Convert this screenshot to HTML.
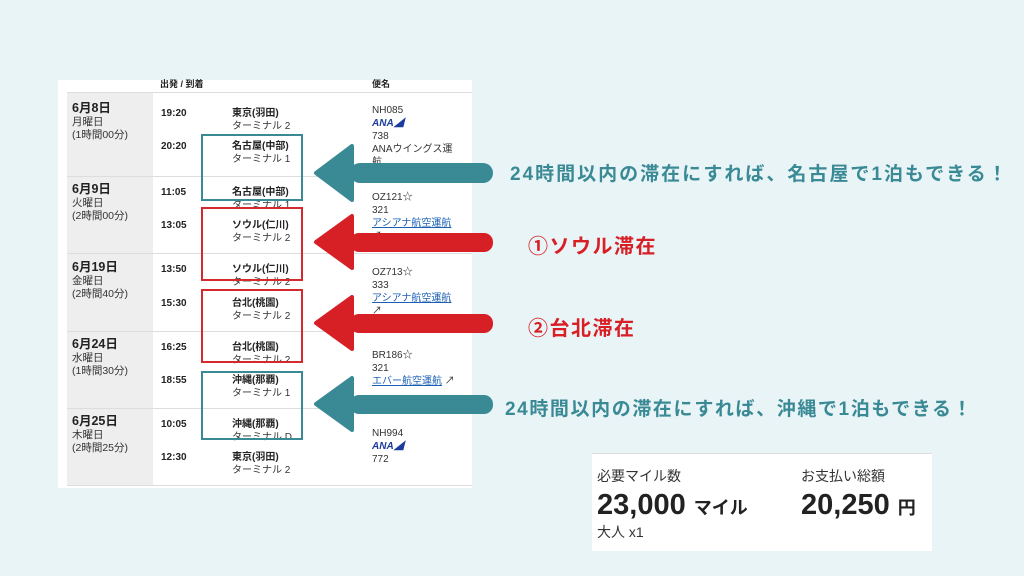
<!DOCTYPE html>
<html><head><meta charset="utf-8"><style>
body{margin:0;width:1024px;height:576px;background:#e9f4f7;position:relative;overflow:hidden;font-family:"Liberation Sans","Noto Sans CJK JP",sans-serif;}
.a{position:absolute;white-space:nowrap;}
.t{font-size:10px;color:#333;line-height:13px}
.b{font-weight:bold;color:#222}
.l{color:#1a5fb4;text-decoration:underline}
</style></head><body>
<div class="a" style="left:58px;top:80px;width:414px;height:408px;background:#fff"></div>
<div class="a" style="left:67px;top:93px;width:86px;height:392px;background:#eeeeee"></div>
<div class="a" style="left:67px;top:92px;width:405px;height:1px;background:#ddd"></div>
<div class="a" style="left:67px;top:176px;width:405px;height:1px;background:#ddd"></div>
<div class="a" style="left:67px;top:253px;width:405px;height:1px;background:#ddd"></div>
<div class="a" style="left:67px;top:331px;width:405px;height:1px;background:#ddd"></div>
<div class="a" style="left:67px;top:408px;width:405px;height:1px;background:#ddd"></div>
<div class="a" style="left:67px;top:485px;width:405px;height:1px;background:#ddd"></div>
<div class="a t b" style="left:160px;top:78px;font-size:9px">出発 / 到着</div>
<div class="a t b" style="left:372px;top:78px;font-size:9px">便名</div>

<div class="a t" style="left:72px;top:102px;font-size:10.5px"><span class="b" style="font-size:12.5px">6月8日</span><br>月曜日<br>(1時間00分)</div>
<div class="a t" style="left:72px;top:183px;font-size:10.5px"><span class="b" style="font-size:12.5px">6月9日</span><br>火曜日<br>(2時間00分)</div>
<div class="a t" style="left:72px;top:261px;font-size:10.5px"><span class="b" style="font-size:12.5px">6月19日</span><br>金曜日<br>(2時間40分)</div>
<div class="a t" style="left:72px;top:338px;font-size:10.5px"><span class="b" style="font-size:12.5px">6月24日</span><br>水曜日<br>(1時間30分)</div>
<div class="a t" style="left:72px;top:415px;font-size:10.5px"><span class="b" style="font-size:12.5px">6月25日</span><br>木曜日<br>(2時間25分)</div>

<div class="a t b" style="left:161px;top:107px">19:20</div>
<div class="a t" style="left:232px;top:107px"><span class="b">東京(羽田)</span><br>ターミナル 2</div>
<div class="a t b" style="left:161px;top:140px">20:20</div>
<div class="a t" style="left:232px;top:140px"><span class="b">名古屋(中部)</span><br>ターミナル 1</div>
<div class="a t b" style="left:161px;top:186px">11:05</div>
<div class="a t" style="left:232px;top:186px"><span class="b">名古屋(中部)</span><br>ターミナル 1</div>
<div class="a t b" style="left:161px;top:219px">13:05</div>
<div class="a t" style="left:232px;top:219px"><span class="b">ソウル(仁川)</span><br>ターミナル 2</div>
<div class="a t b" style="left:161px;top:263px">13:50</div>
<div class="a t" style="left:232px;top:263px"><span class="b">ソウル(仁川)</span><br>ターミナル 2</div>
<div class="a t b" style="left:161px;top:297px">15:30</div>
<div class="a t" style="left:232px;top:297px"><span class="b">台北(桃園)</span><br>ターミナル 2</div>
<div class="a t b" style="left:161px;top:341px">16:25</div>
<div class="a t" style="left:232px;top:341px"><span class="b">台北(桃園)</span><br>ターミナル 2</div>
<div class="a t b" style="left:161px;top:374px">18:55</div>
<div class="a t" style="left:232px;top:374px"><span class="b">沖縄(那覇)</span><br>ターミナル 1</div>
<div class="a t b" style="left:161px;top:418px">10:05</div>
<div class="a t" style="left:232px;top:418px"><span class="b">沖縄(那覇)</span><br>ターミナル D</div>
<div class="a t b" style="left:161px;top:451px">12:30</div>
<div class="a t" style="left:232px;top:451px"><span class="b">東京(羽田)</span><br>ターミナル 2</div>

<div class="a t" style="left:372px;top:104px">NH085<br><i class="b" style="color:#1a3d9c">ANA◢</i><br>738<br>ANAウイングス運<br>航</div>
<div class="a t" style="left:372px;top:191px">OZ121☆<br>321<br><span class="l">アシアナ航空運航</span><br>↗</div>
<div class="a t" style="left:372px;top:266px">OZ713☆<br>333<br><span class="l">アシアナ航空運航</span><br>↗</div>
<div class="a t" style="left:372px;top:349px">BR186☆<br>321<br><span class="l">エバー航空運航</span> ↗</div>
<div class="a t" style="left:372px;top:427px">NH994<br><i class="b" style="color:#1a3d9c">ANA◢</i><br>772</div>

<div class="a" style="left:201px;top:134px;width:98px;height:63px;border:2px solid #3a8a96"></div>
<div class="a" style="left:201px;top:207px;width:98px;height:70px;border:2px solid #d42a2e"></div>
<div class="a" style="left:201px;top:289px;width:98px;height:70px;border:2px solid #d42a2e"></div>
<div class="a" style="left:201px;top:371px;width:98px;height:65px;border:2px solid #3a8a96"></div>

<svg class="a" style="left:0;top:0" width="1024" height="576">
<g fill="#3a8a96"><path d="M316 173 L352 146 L352 200 Z" stroke="#3a8a96" stroke-width="4" stroke-linejoin="round"/><rect x="350" y="163" width="143" height="20" rx="10"/></g>
<g fill="#d71f26"><path d="M316 242 L352 216 L352 268 Z" stroke="#d71f26" stroke-width="4" stroke-linejoin="round"/><rect x="350" y="233" width="143" height="19" rx="9"/></g>
<g fill="#d71f26"><path d="M316 323 L352 297 L352 349 Z" stroke="#d71f26" stroke-width="4" stroke-linejoin="round"/><rect x="350" y="314" width="143" height="19" rx="9"/></g>
<g fill="#3a8a96"><path d="M316 404 L352 378 L352 430 Z" stroke="#3a8a96" stroke-width="4" stroke-linejoin="round"/><rect x="350" y="395" width="143" height="19" rx="9"/></g>
</svg>

<div class="a" style="left:510px;top:159px;font-size:19px;letter-spacing:2px;font-weight:bold;color:#3a8a96">24時間以内の滞在にすれば、名古屋で1泊もできる！</div>
<div class="a" style="left:528px;top:230px;font-size:20px;letter-spacing:1.5px;font-weight:bold;color:#d71f26">①ソウル滞在</div>
<div class="a" style="left:528px;top:312px;font-size:20px;letter-spacing:1.5px;font-weight:bold;color:#d71f26">②台北滞在</div>
<div class="a" style="left:505px;top:394px;font-size:19px;letter-spacing:1.6px;font-weight:bold;color:#3a8a96">24時間以内の滞在にすれば、沖縄で1泊もできる！</div>

<div class="a" style="left:592px;top:453px;width:340px;height:97px;background:#fff;border-top:1px solid #ddd"></div>
<div class="a" style="left:597px;top:466px;font-size:14px;color:#333">必要マイル数</div>
<div class="a" style="left:801px;top:466px;font-size:14px;color:#333">お支払い総額</div>
<div class="a" style="left:597px;top:489px;font-size:29px;font-weight:bold;color:#222">23,000 <span style="font-size:18px">マイル</span></div>
<div class="a" style="left:801px;top:489px;font-size:29px;font-weight:bold;color:#222">20,250 <span style="font-size:18px">円</span></div>
<div class="a" style="left:597px;top:522px;font-size:14px;color:#333">大人 x1</div>
</body></html>
